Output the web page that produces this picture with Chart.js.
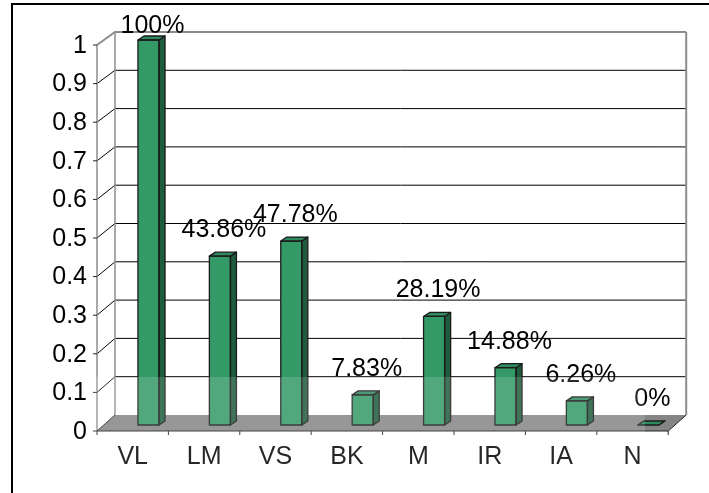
<!DOCTYPE html>
<html>
<head>
<meta charset="utf-8">
<script src="https://cdn.jsdelivr.net/npm/chart.js@4"></script>
<style>
  html, body { margin: 0; padding: 0; background: #fff; }
  canvas { display: block; }
</style>
</head>
<body>
<canvas id="c" width="709" height="493"></canvas>
<script>
// ---- data ----
const categories = ['VL', 'LM', 'VS', 'BK', 'M', 'IR', 'IA', 'N'];
const values = [1, 0.4386, 0.4778, 0.0783, 0.2819, 0.1488, 0.0626, 0];
const yTicks = [0, 0.1, 0.2, 0.3, 0.4, 0.5, 0.6, 0.7, 0.8, 0.9, 1];

// ---- style ----
const FONT = '25px "Liberation Sans", Arial, sans-serif';
const FRONT = '#339966', SIDE = '#1f5c3d', TOP = '#2e8a5c', EDGE = '#1a1a1a';
const DEPTH = { dx: 6, dy: -4 };          // bar depth
const BACK = { dx: 2.2, dy0: -10, dy1: -8 }; // back wall offset from bar plane
const FRONTAX = { dx: -15.8, dy0: 6, dy1: 5 }; // front axis offset from bar plane

function fmt(v) { return Number((v * 100).toFixed(2)) + '%'; }

const scene = {
  id: 'scene',
  beforeDatasetsDraw(chart) {
    const { ctx, chartArea: a, scales: { x, y } } = chart;
    const n = categories.length;
    const w = (a.right - a.left) / n;
    const by = v => y.getPixelForValue(v) + BACK.dy0 + (BACK.dy1 - BACK.dy0) * v;
    const fy = v => y.getPixelForValue(v) + FRONTAX.dy0 + (FRONTAX.dy1 - FRONTAX.dy0) * v;
    const bL = a.left + BACK.dx, bR = a.right + BACK.dx;
    const fL = a.left + FRONTAX.dx, fR = a.right + FRONTAX.dx;
    ctx.save();
    // outer border
    ctx.strokeStyle = '#000'; ctx.lineWidth = 2;
    ctx.beginPath(); ctx.moveTo(12, 493); ctx.lineTo(12, 4); ctx.lineTo(709, 4); ctx.stroke();

    // back wall
    ctx.fillStyle = '#fff';
    ctx.fillRect(bL, by(1), bR - bL, by(0) - by(1));
    // gridlines on back wall and side wall
    yTicks.forEach(v => {
      if (v === 0) return;
      const top = v === 1;
      ctx.strokeStyle = top ? '#8c8c8c' : '#000';
      ctx.lineWidth = top ? 2 : 1;
      ctx.beginPath();
      ctx.moveTo(fL, fy(v)); ctx.lineTo(bL, by(v)); ctx.lineTo(bR, by(v));
      ctx.stroke();
    });
    // back wall left & right edges
    ctx.strokeStyle = '#8c8c8c'; ctx.lineWidth = 2;
    ctx.beginPath(); ctx.moveTo(bR, by(1)); ctx.lineTo(bR, by(0)); ctx.stroke();
    ctx.lineWidth = 1.5;
    ctx.beginPath(); ctx.moveTo(bL, by(1)); ctx.lineTo(bL, by(0)); ctx.stroke();
    // front vertical axis
    ctx.strokeStyle = '#8c8c8c'; ctx.lineWidth = 1.5;
    ctx.beginPath(); ctx.moveTo(fL, fy(1)); ctx.lineTo(fL, fy(0)); ctx.stroke();

    // floor
    ctx.fillStyle = '#858585';
    ctx.beginPath();
    ctx.moveTo(fL, fy(0)); ctx.lineTo(fR, fy(0)); ctx.lineTo(bR, by(0)); ctx.lineTo(bL, by(0));
    ctx.closePath(); ctx.fill();
    ctx.strokeStyle = '#222'; ctx.lineWidth = 1;
    ctx.beginPath();
    ctx.moveTo(bL, by(0)); ctx.lineTo(fL, fy(0)); ctx.lineTo(fR, fy(0)); ctx.lineTo(bR, by(0));
    ctx.stroke();

    // y ticks & labels
    ctx.fillStyle = '#000'; ctx.font = FONT; ctx.textAlign = 'right'; ctx.textBaseline = 'middle';
    ctx.strokeStyle = '#222'; ctx.lineWidth = 1;
    yTicks.forEach(v => {
      const yy = fy(v);
      ctx.beginPath(); ctx.moveTo(fL - 4, yy); ctx.lineTo(fL, yy); ctx.stroke();
      ctx.fillText(String(v), fL - 10, yy + 1);
    });
    // x ticks & labels
    ctx.textAlign = 'center';
    for (let i = 0; i <= n; i++) {
      const xx = fL + i * w;
      ctx.beginPath(); ctx.moveTo(xx, fy(0)); ctx.lineTo(xx, fy(0) + 4); ctx.stroke();
    }
    categories.forEach((c, i) => {
      ctx.fillText(c, fL + (i + 0.5) * w, fy(0) + 26);
    });
    ctx.restore();
  },
  afterDatasetsDraw(chart) {
    const { ctx, chartArea: a } = chart;
    const meta = chart.getDatasetMeta(0);
    ctx.save();
    ctx.lineWidth = 1.3; ctx.strokeStyle = EDGE; ctx.lineJoin = 'round';
    meta.data.forEach((bar, i) => {
      const p = bar.getProps(['x', 'y', 'base', 'width'], true);
      const l = p.x - p.width / 2, r = p.x + p.width / 2, t = p.y, b = p.base;
      // side face
      ctx.fillStyle = SIDE;
      ctx.beginPath();
      ctx.moveTo(r, t); ctx.lineTo(r + DEPTH.dx, t + DEPTH.dy);
      ctx.lineTo(r + DEPTH.dx, b + DEPTH.dy); ctx.lineTo(r, b); ctx.closePath();
      ctx.fill(); ctx.stroke();
      // top face
      ctx.fillStyle = TOP;
      ctx.beginPath();
      ctx.moveTo(l, t); ctx.lineTo(l + DEPTH.dx, t + DEPTH.dy);
      ctx.lineTo(r + DEPTH.dx, t + DEPTH.dy); ctx.lineTo(r, t); ctx.closePath();
      ctx.fill(); ctx.stroke();
      // front outline
      if (b - t > 0.5) ctx.strokeRect(l, t, r - l, b - t);
    });
    // data labels
    ctx.fillStyle = '#000'; ctx.font = FONT; ctx.textAlign = 'center'; ctx.textBaseline = 'middle';
    meta.data.forEach((bar, i) => {
      const p = bar.getProps(['x', 'y'], true);
      const ly = Math.max(p.y - 26, a.top - 14);
      ctx.fillText(fmt(values[i]), p.x + 4, ly);
    });
    // faint watermark overlay
    ctx.fillStyle = 'rgba(255,255,255,0.15)';
    ctx.fillRect(92, 377, 553, 116);
    ctx.restore();
  }
};

new Chart(document.getElementById('c'), {
  type: 'bar',
  data: {
    labels: categories,
    datasets: [{
      data: values,
      backgroundColor: FRONT,
      borderColor: EDGE,
      borderWidth: 0,
      categoryPercentage: 1,
      barPercentage: 0.295
    }]
  },
  options: {
    responsive: false,
    animation: false,
    devicePixelRatio: 1,
    layout: { padding: { left: 112.8, right: 25, top: 40, bottom: 68 } },
    scales: {
      x: { display: false },
      y: { display: false, min: 0, max: 1 }
    },
    plugins: { legend: { display: false }, tooltip: { enabled: false } }
  },
  plugins: [scene]
});
</script>
</body>
</html>
